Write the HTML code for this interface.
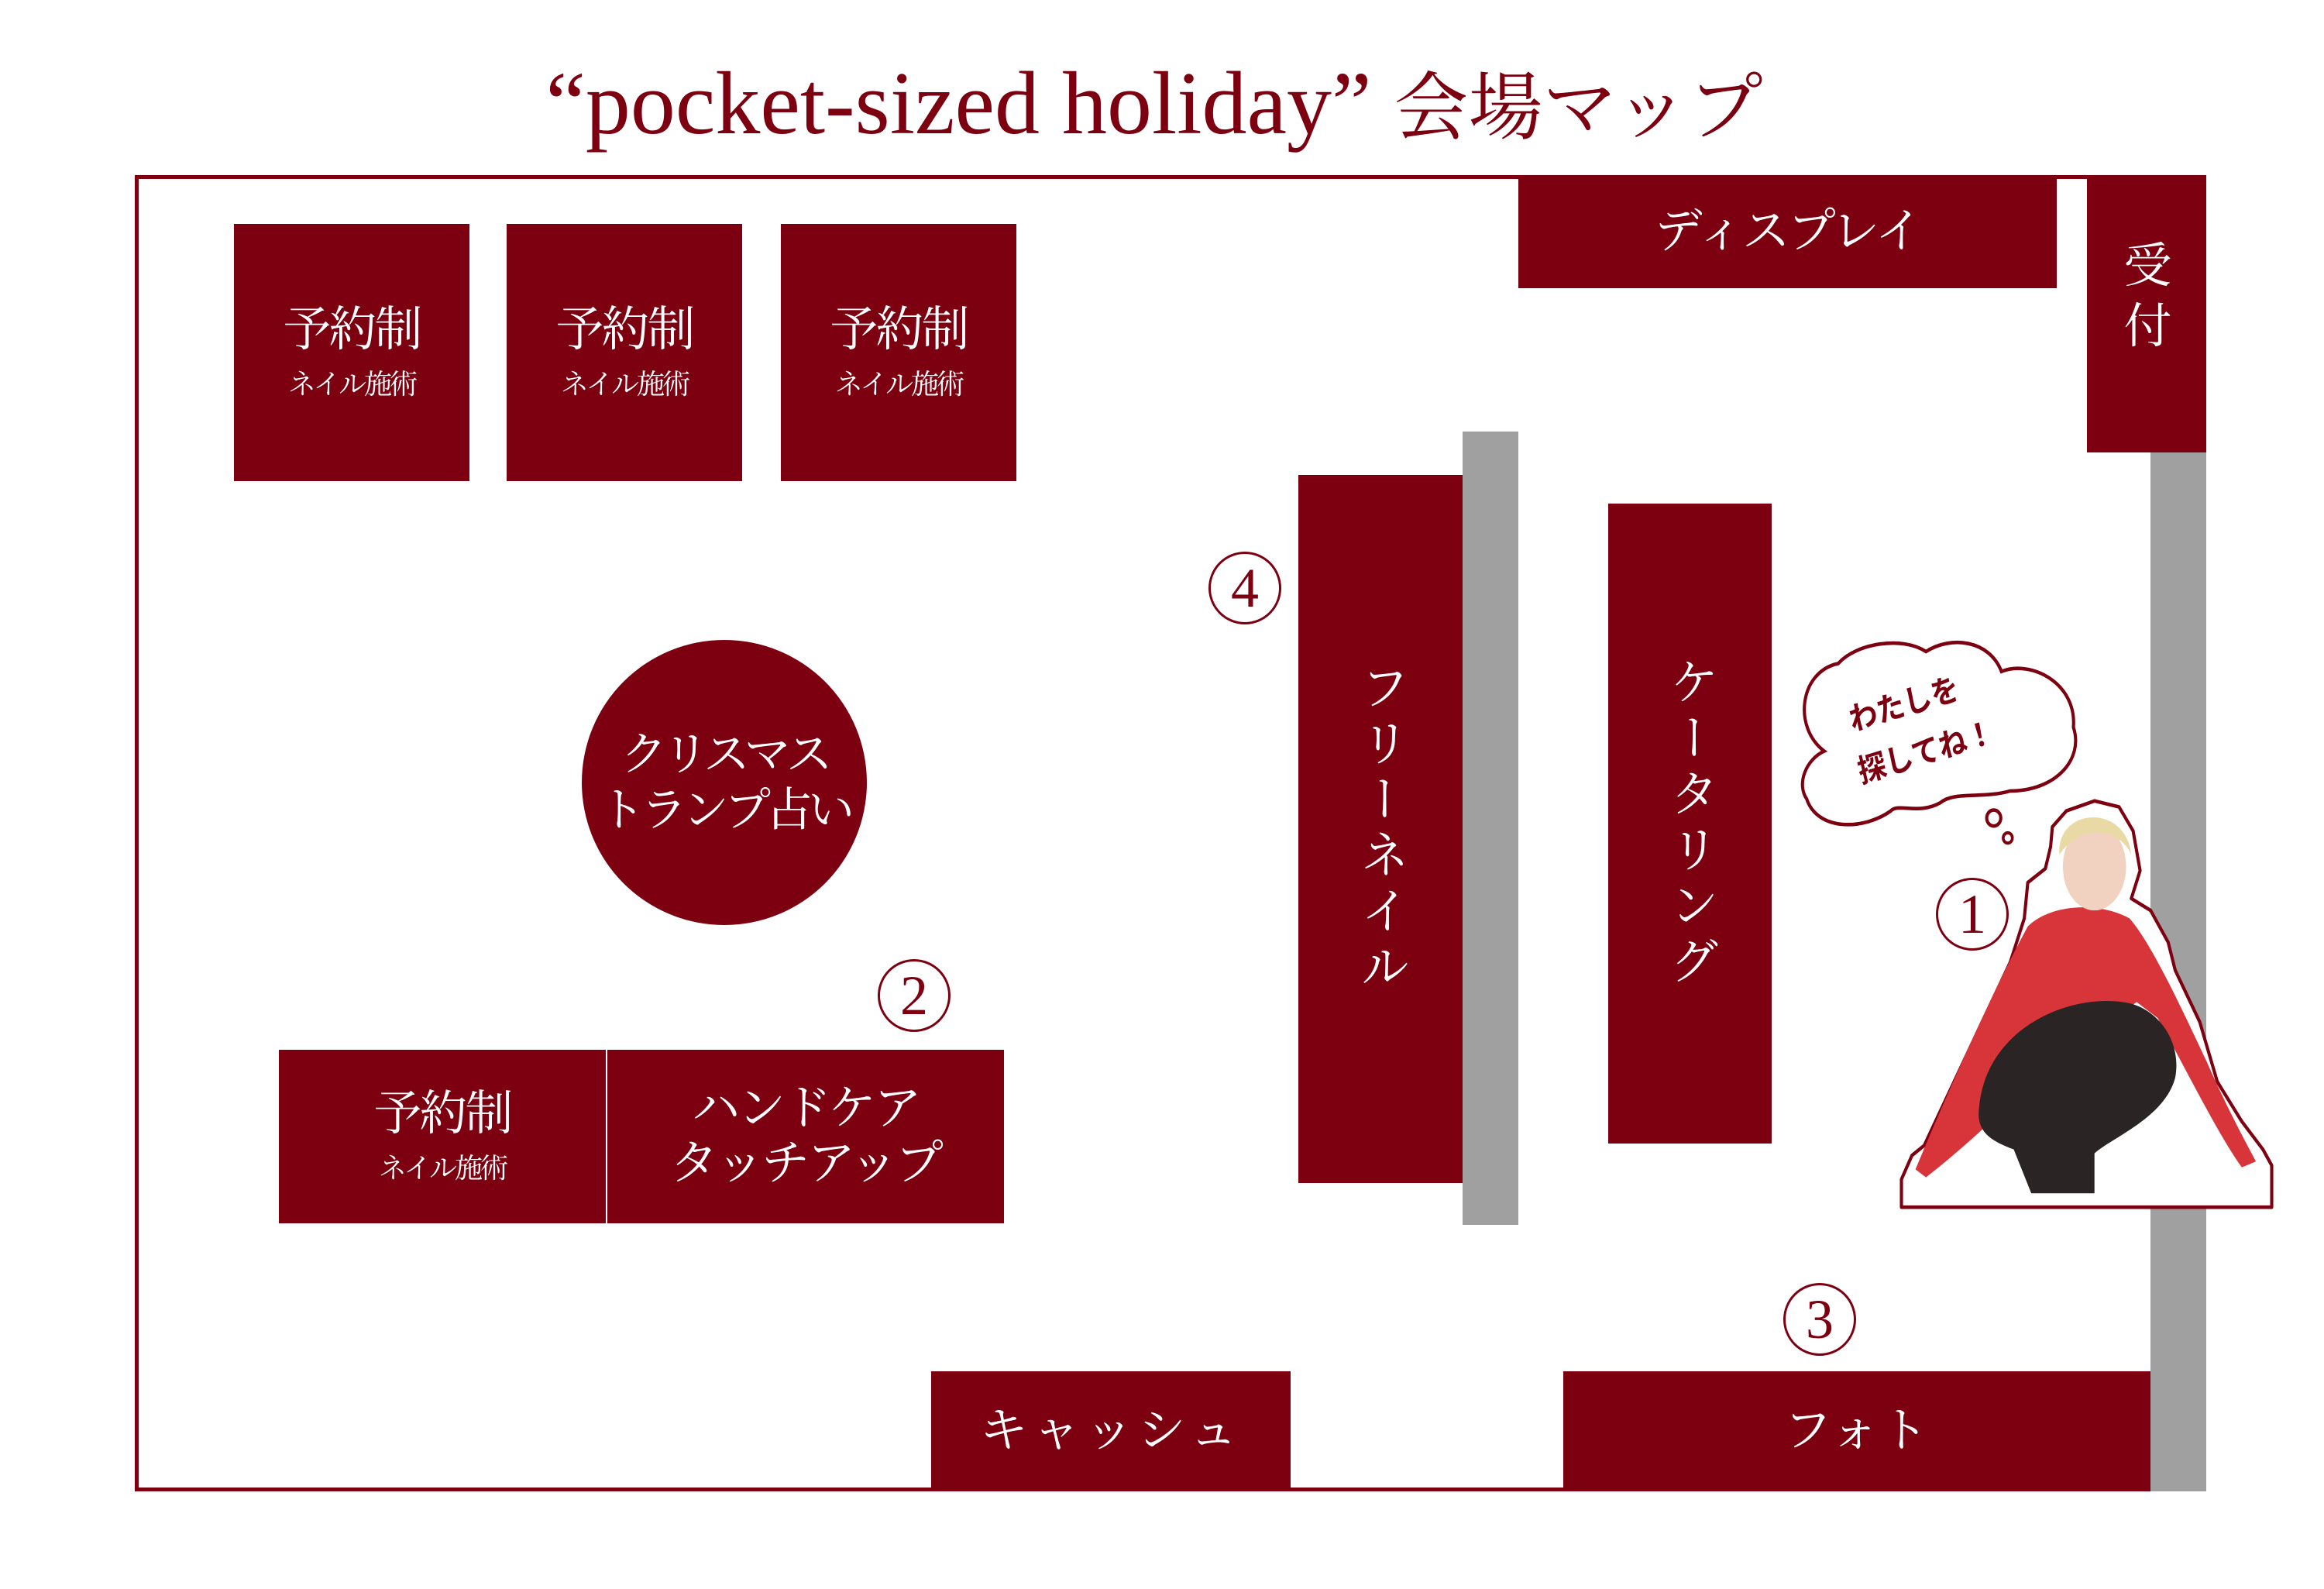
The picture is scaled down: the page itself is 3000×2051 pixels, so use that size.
<!DOCTYPE html>
<html><head><meta charset="utf-8">
<style>
html,body{margin:0;padding:0;background:#fff;}
body{width:3000px;height:2051px;position:relative;overflow:hidden;font-family:"Liberation Serif","Noto Serif CJK SC",serif;}
.a{position:absolute;}
.b{position:absolute;background:#7d0011;color:#fff;display:flex;flex-direction:column;align-items:center;justify-content:center;font-family:"Liberation Serif","Noto Serif CJK JP","Noto Serif CJK SC",serif;}
.g{position:absolute;background:#a0a0a0;}
.big{font-size:62px;line-height:1.2;letter-spacing:-3px;white-space:nowrap;}
.sub{font-size:36px;line-height:1.4;margin-top:8px;letter-spacing:-3px;white-space:nowrap;}
.v{writing-mode:vertical-rl;font-size:64px;letter-spacing:8px;}
.num{position:absolute;border:3px solid #7d0011;border-radius:50%;color:#7d0011;font-size:72px;display:flex;align-items:center;justify-content:center;box-sizing:border-box;font-family:"Liberation Serif",serif;}
</style></head><body>
<div class="a" style="left:0;top:62px;width:2980px;text-align:center;font-size:116px;color:#7d0011;line-height:140px;white-space:nowrap;">“pocket-sized holiday” <span style="font-family:'Noto Serif CJK JP','Noto Serif CJK SC',serif;font-size:96px;">会場マップ</span></div>

<div class="a" style="left:174px;top:226px;width:2674px;height:1699px;border:5px solid #7d0011;box-sizing:border-box;"></div>

<div class="b" style="left:302px;top:289px;width:304px;height:332px;"><div class="big">予約制</div><div class="sub">ネイル施術</div></div>
<div class="b" style="left:654px;top:289px;width:304px;height:332px;"><div class="big">予約制</div><div class="sub">ネイル施術</div></div>
<div class="b" style="left:1008px;top:289px;width:304px;height:332px;"><div class="big">予約制</div><div class="sub">ネイル施術</div></div>

<div class="b" style="left:1960px;top:226px;width:695px;height:146px;"><div class="big">ディスプレイ</div></div>
<div class="b" style="left:2694px;top:226px;width:154px;height:358px;justify-content:flex-start;padding-top:80px;box-sizing:border-box;"><div class="big" style="line-height:1.25;">受<br>付</div></div>
<div class="g" style="left:2776px;top:584px;width:72px;height:1341px;"></div>
<div class="g" style="left:1888px;top:557px;width:72px;height:1024px;"></div>

<div class="b" style="left:1676px;top:613px;width:212px;height:914px;"><div class="v">フリーネイル</div></div>
<div class="b" style="left:2076px;top:650px;width:211px;height:826px;"><div class="v">ケータリング</div></div>

<div class="b" style="left:751px;top:826px;width:368px;height:368px;border-radius:50%;"><div class="big" style="font-size:60px;line-height:1.2;text-align:center;letter-spacing:-6px;">クリスマス<br>トランプ占い</div></div>

<div class="b" style="left:360px;top:1355px;width:422px;height:224px;"><div class="big">予約制</div><div class="sub">ネイル施術</div></div>
<div class="b" style="left:784px;top:1355px;width:512px;height:224px;"><div class="big" style="line-height:1.15;text-align:center;">ハンドケア<br>タッチアップ</div></div>

<div class="b" style="left:1202px;top:1770px;width:464px;height:155px;"><div class="big" style="letter-spacing:6px;">キャッシュ</div></div>
<div class="b" style="left:2018px;top:1770px;width:758px;height:155px;"><div class="big" style="letter-spacing:2px;">フォト</div></div>

<div class="num" style="left:1560px;top:712px;width:94px;height:94px;">4</div>
<div class="num" style="left:1133px;top:1238px;width:94px;height:94px;">2</div>
<div class="num" style="left:2302px;top:1656px;width:94px;height:94px;">3</div>
<div class="num" style="left:2499px;top:1133px;width:94px;height:94px;">1</div>

<svg class="a" style="left:2305px;top:805px;" width="700" height="800" viewBox="0 0 1545 1556" preserveAspectRatio="none">
<path d="M110,320 C20,260 40,120 150,100 C200,50 330,30 400,70 C470,30 580,40 615,120 C700,90 830,150 820,260 C850,340 770,420 640,420 C560,440 480,420 440,450 C380,480 320,450 300,470 C220,520 90,520 60,440 C30,400 60,340 110,320 Z" fill="#fff" stroke="#7d0011" stroke-width="9"/>
<text x="190" y="270" font-size="80" fill="#7d0011" font-weight="bold" transform="rotate(-15 190 270)" font-family="'Noto Sans CJK JP',sans-serif">わたしを</text>
<text x="215" y="400" font-size="80" fill="#7d0011" font-weight="bold" transform="rotate(-15 215 400)" font-family="'Noto Sans CJK JP',sans-serif">探してね！</text>
<circle cx="593" cy="488" r="20" fill="#fff" stroke="#7d0011" stroke-width="9"/>
<circle cx="633" cy="538" r="13" fill="#fff" stroke="#7d0011" stroke-width="8"/>
<path d="M330,1465 L330,1395 L360,1335 L395,1310 L480,1150 L560,1000 L640,850 L680,740 L690,650 L740,615 L755,560 L760,510 L800,470 L880,445 L950,460 L990,520 L1010,620 L985,690 L1040,720 L1090,800 L1110,870 L1180,1000 L1230,1150 L1300,1250 L1360,1320 L1385,1360 L1385,1465 Z" fill="#fff" stroke="#7d0011" stroke-width="9" stroke-linejoin="round"/>
<path d="M690,760 C760,700 900,700 980,740 C1040,800 1120,950 1200,1100 C1260,1220 1310,1300 1340,1350 L1300,1365 C1230,1280 1130,1100 1060,990 L1000,950 L720,1140 C620,1220 530,1300 400,1390 L370,1370 C460,1180 580,940 690,760 Z" fill="#d8353a"/>
<path d="M550,1230 C560,1020 800,930 960,950 C1060,960 1130,1050 1110,1140 C1080,1240 930,1290 880,1330 L880,1430 L700,1430 L650,1320 C590,1300 550,1280 550,1230 Z" fill="#2a2424"/>
<ellipse cx="880" cy="610" rx="90" ry="110" fill="#f1d2c0"/>
<path d="M780,580 C770,460 970,450 985,580 C950,510 840,500 780,580 Z" fill="#e9d9a5"/>
</svg>
</body></html>
